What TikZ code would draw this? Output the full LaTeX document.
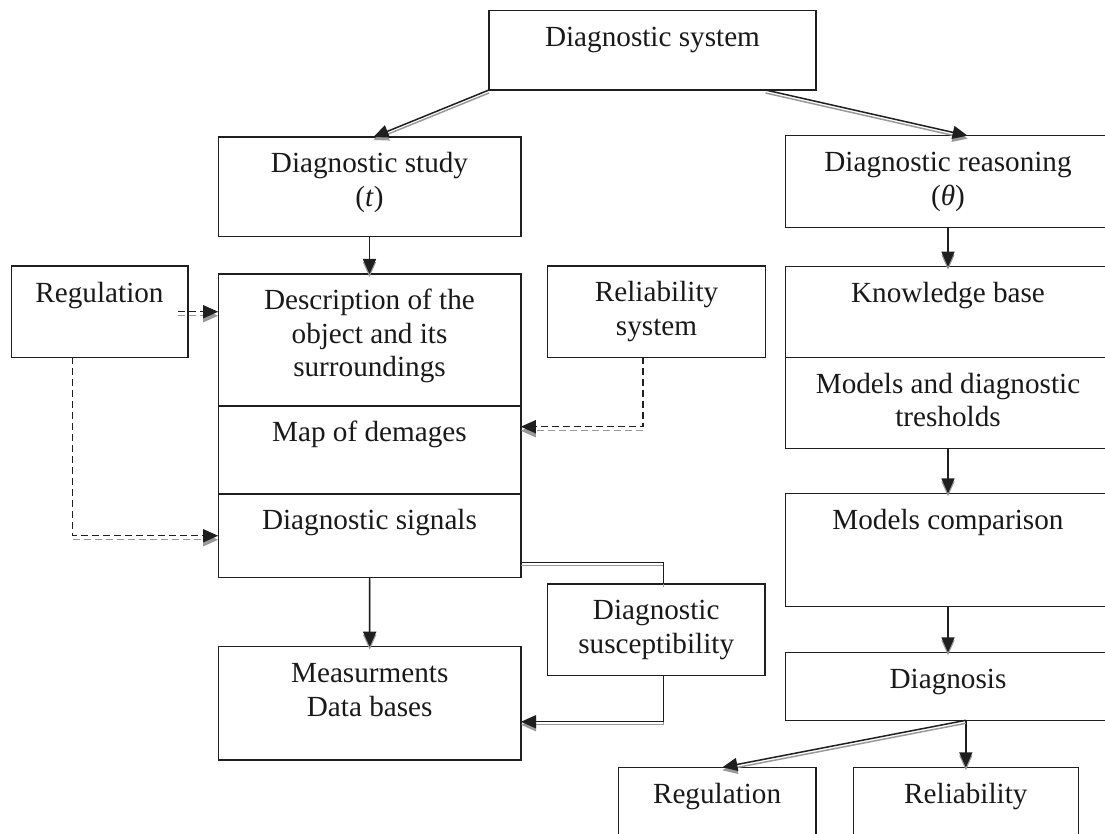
\documentclass[tikz,border=0pt]{standalone}
\usepackage{fontspec}
\setmainfont{Liberation Serif}
\usetikzlibrary{arrows.meta,calc}
\tikzset{
  boxnode/.style={draw=black!88, line width=0.7pt, inner sep=0pt, outer sep=0pt, anchor=north west,
    font=\fontsize{14.6pt}{16.7pt}\selectfont, text=black!90},
  conn/.style={draw=black!88, line width=0.75pt},
  shad/.style={draw=black!40, fill=none, line width=0.75pt, transform canvas={yshift=-1.5pt}},
  dshad/.style={draw=black!40, line width=0.75pt, transform canvas={yshift=-2pt}},
  tip/.style={-{Triangle[length=7.5pt,width=6.5pt]}},
  dsh/.style={dash pattern=on 3.5pt off 2pt},
}
\newcommand\bx[3]{\parbox[c][#2][t]{#1}{\centering\rule{0pt}{18pt}#3\par}}
\newcommand\sconn[2]{\draw[shad,#1] #2; \draw[conn,#1] #2;}
\begin{document}
\begin{tikzpicture}[x=0.5pt,y=-0.5pt]
\useasboundingbox (0,0) rectangle (1105,834);
\clip (0,0) rectangle (1105,834);
% boxes
\node[boxnode] (sys)    at (489,10.7)    {\bx{163.5pt}{39.65pt}{Diagnostic system}};
\node[boxnode] (study)  at (218.2,137)   {\bx{151.3pt}{49.85pt}{Diagnostic study\\(\textit{t})}};
\node[boxnode] (reason) at (785.3,135.7) {\bx{162.7pt}{45.8pt}{Diagnostic reasoning\\(\textit{θ})}};
\node[boxnode] (regL)   at (11.2,266.2)  {\bx{88.3pt}{45.55pt}{Regulation}};
\node[boxnode] (desc)   at (218.2,274)   {\bx{151.3pt}{66pt}{Description of the\\object and its\\surroundings}};
\node[boxnode] (map)    at (218.2,406)   {\bx{151.3pt}{44pt}{Map of demages}};
\node[boxnode] (sig)    at (218.2,494)   {\bx{151.3pt}{41.75pt}{Diagnostic signals}};
\node[boxnode] (relsys) at (547.7,266)   {\bx{108.85pt}{45.65pt}{Reliability\\system}};
\node[boxnode] (kb)     at (785.3,266.7) {\bx{162.7pt}{45.3pt}{Knowledge base}};
\node[boxnode] (mdt)    at (785.3,357.3) {\bx{162.7pt}{45.5pt}{Models and diagnostic\\tresholds}};
\node[boxnode] (mc)     at (785.3,493.3) {\bx{162.7pt}{56.7pt}{Models comparison}};
\node[boxnode] (diag)   at (785.3,652.3) {\bx{162.7pt}{34pt}{Diagnosis}};
\node[boxnode] (sus)    at (547.5,584)   {\bx{108.75pt}{45.65pt}{Diagnostic\\susceptibility}};
\node[boxnode] (meas)   at (218.5,646.7) {\bx{151.25pt}{56.65pt}{Measurments\\Data bases}};
\node[boxnode] (regB)   at (618.4,767.3) {\bx{98.7pt}{50pt}{Regulation}};
\node[boxnode] (relB)   at (853.3,767.3) {\bx{112.55pt}{50pt}{Reliability}};
% helper coordinates
\coordinate (c1) at ([xshift=-25.2pt]sys.south east);
\coordinate (c2) at ([xshift=9.8pt]reason.north);
\coordinate (c3) at ([xshift=2pt]study.north);
\coordinate (d0) at (relB.north |- diag.south);
\coordinate (d1) at ([xshift=2.65pt]regB.north);
\coordinate (s1) at ([yshift=-13.5pt]sig.east);
\coordinate (s2) at ([xshift=3.6pt]sus.north);
\coordinate (s3) at ([xshift=3.6pt]sus.south);
\coordinate (s4) at ([yshift=-9.2pt]meas.east);
\coordinate (rl) at ([xshift=-13.45pt]regL.south);
\coordinate (rs) at ([xshift=-6.7pt]relsys.south);
\coordinate (mp) at ([yshift=11.65pt]map.east);
\coordinate (re) at ([xshift=-5pt]regL.east);
% solid connectors
\sconn{tip}{(sys.south west) -- (c3)}
\sconn{tip}{(c1) -- (c2)}
\sconn{tip}{(study.south) -- (desc.north)}
\sconn{tip}{(reason.south) -- (kb.north)}
\sconn{tip}{(mdt.south) -- (mc.north)}
\sconn{tip}{(mc.south) -- (diag.north)}
\sconn{tip}{(sig.south) -- (meas.north)}
\sconn{tip}{(d0) -- (relB.north)}
\sconn{tip}{(d0) -- (d1)}
\sconn{}{(s1) -| (s2)}
\sconn{tip}{(s3) |- (s4)}
% dashed connectors
\draw[dshad,dsh,tip] (re) -- (re -| desc.west);
\draw[conn,dsh,tip] (re) -- (re -| desc.west);
\draw[dshad,dsh,tip] (rl |- sig.west) -- (sig.west);
\draw[conn,dsh,tip] (rl) |- (sig.west);
\draw[dshad,dsh,tip] (rs |- mp) -- (mp);
\draw[conn,dsh,tip] (rs) |- (mp);
\end{tikzpicture}
\end{document}
